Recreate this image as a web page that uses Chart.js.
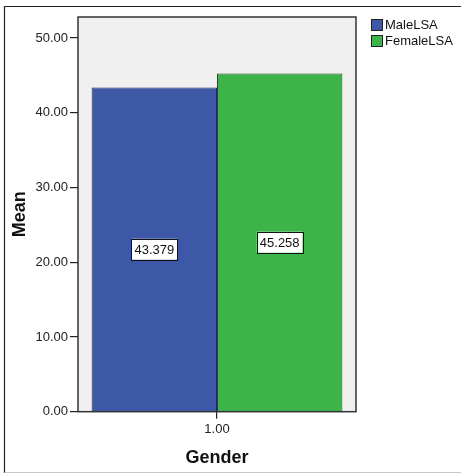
<!DOCTYPE html>
<html>
<head>
<meta charset="utf-8">
<title>Mean LSA by Gender</title>
<script src="https://cdn.jsdelivr.net/npm/chart.js@4.4.1/dist/chart.umd.min.js"></script>
<style>
  html, body { margin: 0; padding: 0; background: #fff; }
  canvas { display: block; }
</style>
</head>
<body>
<canvas id="chart" width="461" height="474"></canvas>
<script>
// data
const categories = ['1.00'];
const seriesNames = ['MaleLSA', 'FemaleLSA'];
const maleValues = [43.379];
const femaleValues = [45.258];
const yTickValues = [0, 10, 20, 30, 40, 50];

const blue = '#3d58a7';
const green = '#3cb44a';
const FONT = '"Liberation Sans", Arial, sans-serif';

// light gray plot background + dark frame round it
const plotFrame = {
  id: 'plotFrame',
  beforeDatasetsDraw(chart) {
    const { ctx, chartArea: a } = chart;
    ctx.save();
    ctx.fillStyle = '#f0f0f0';
    ctx.fillRect(a.left, a.top, a.right - a.left, a.bottom - a.top);
    ctx.restore();
  },
  afterDatasetsDraw(chart) {
    const { ctx, chartArea: a } = chart;
    ctx.save();
    ctx.strokeStyle = '#333';
    ctx.lineWidth = 1.5;
    ctx.strokeRect(a.left, a.top, a.right - a.left, a.bottom - a.top);
    ctx.restore();
  }
};

// outer picture border
const outerFrame = {
  id: 'outerFrame',
  afterDraw(chart) {
    const ctx = chart.ctx;
    ctx.save();
    ctx.strokeStyle = '#222';
    ctx.lineWidth = 1.2;
    ctx.beginPath();
    ctx.moveTo(4.5, 473);
    ctx.lineTo(4.5, 6.5);
    ctx.lineTo(461, 6.5);
    ctx.stroke();
    ctx.strokeStyle = '#c8c8c8';
    ctx.beginPath();
    ctx.moveTo(4.5, 472.5);
    ctx.lineTo(461, 472.5);
    ctx.stroke();
    ctx.restore();
  }
};

// boxed value labels in the middle of each bar
const valueBoxes = {
  id: 'valueBoxes',
  afterDatasetsDraw(chart) {
    const ctx = chart.ctx;
    ctx.save();
    ctx.font = '13px ' + FONT;
    ctx.textAlign = 'center';
    ctx.textBaseline = 'middle';
    chart.data.datasets.forEach((ds, i) => {
      chart.getDatasetMeta(i).data.forEach((bar, j) => {
        const txt = ds.data[j].toFixed(3);
        const cy = (bar.y + bar.base) / 2;
        const w = ctx.measureText(txt).width + 6;
        const h = 21;
        ctx.fillStyle = '#fff';
        ctx.fillRect(bar.x - w / 2, cy - h / 2, w, h);
        ctx.strokeStyle = '#111';
        ctx.lineWidth = 1;
        ctx.strokeRect(Math.round(bar.x - w / 2) + 0.5, Math.round(cy - h / 2) + 0.5, Math.round(w), h);
        ctx.fillStyle = '#111';
        ctx.fillText(txt, bar.x, cy + 1);
      });
    });
    ctx.restore();
  }
};

// legend in the top right corner, outside the plot
const sideLegend = {
  id: 'sideLegend',
  afterDraw(chart) {
    const ctx = chart.ctx;
    ctx.save();
    ctx.font = '13px ' + FONT;
    ctx.textBaseline = 'middle';
    chart.data.datasets.forEach((ds, i) => {
      const y = 19 + i * 16;
      ctx.fillStyle = ds.backgroundColor;
      ctx.fillRect(371, y, 12, 12);
      ctx.strokeStyle = '#222';
      ctx.lineWidth = 1;
      ctx.strokeRect(371.5, y + 0.5, 11, 11);
      ctx.fillStyle = '#111';
      ctx.fillText(ds.label, 385, y + 6.5);
    });
    ctx.restore();
  }
};

new Chart(document.getElementById('chart'), {
  type: 'bar',
  data: {
    labels: categories,
    datasets: [
      { label: seriesNames[0], data: maleValues, backgroundColor: blue, borderColor: '#1e2a55', borderWidth: 1 },
      { label: seriesNames[1], data: femaleValues, backgroundColor: green, borderColor: '#1d4d22', borderWidth: 1 }
    ]
  },
  options: {
    responsive: false,
    animation: false,
    devicePixelRatio: 1,
    layout: { padding: { left: 0, right: 105, top: 17, bottom: 0 } },
    categoryPercentage: 0.902,
    barPercentage: 1.0,
    plugins: {
      legend: { display: false },
      tooltip: { enabled: false }
    },
    scales: {
      x: {
        offset: true,
        afterFit(scale) { scale.height = 62.3; },
        grid: { offset: false, drawOnChartArea: false, drawTicks: true, tickLength: 7, color: '#222', lineWidth: 1.2 },
        border: { display: false },
        ticks: { color: '#222', padding: 3, font: { family: FONT, size: 13 } },
        title: {
          display: true, text: 'Gender', color: '#111',
          padding: { top: 0, bottom: 5 },
          font: { family: FONT, size: 18, weight: 'bold' }
        }
      },
      y: {
        min: 0,
        max: 52.8,
        afterFit(scale) { scale.width = 78; },
        afterBuildTicks(scale) { scale.ticks = yTickValues.map(v => ({ value: v })); },
        grid: { drawOnChartArea: false, drawTicks: true, tickLength: 8, color: '#222', lineWidth: 1.2 },
        border: { display: false },
        ticks: {
          color: '#222', padding: 2,
          font: { family: FONT, size: 13 },
          callback: v => Number(v).toFixed(2)
        },
        title: {
          display: true, text: 'Mean', color: '#111',
          padding: { top: 9, bottom: 0 },
          font: { family: FONT, size: 18, weight: 'bold' }
        }
      }
    }
  },
  plugins: [plotFrame, valueBoxes, sideLegend, outerFrame]
});
</script>
</body>
</html>
